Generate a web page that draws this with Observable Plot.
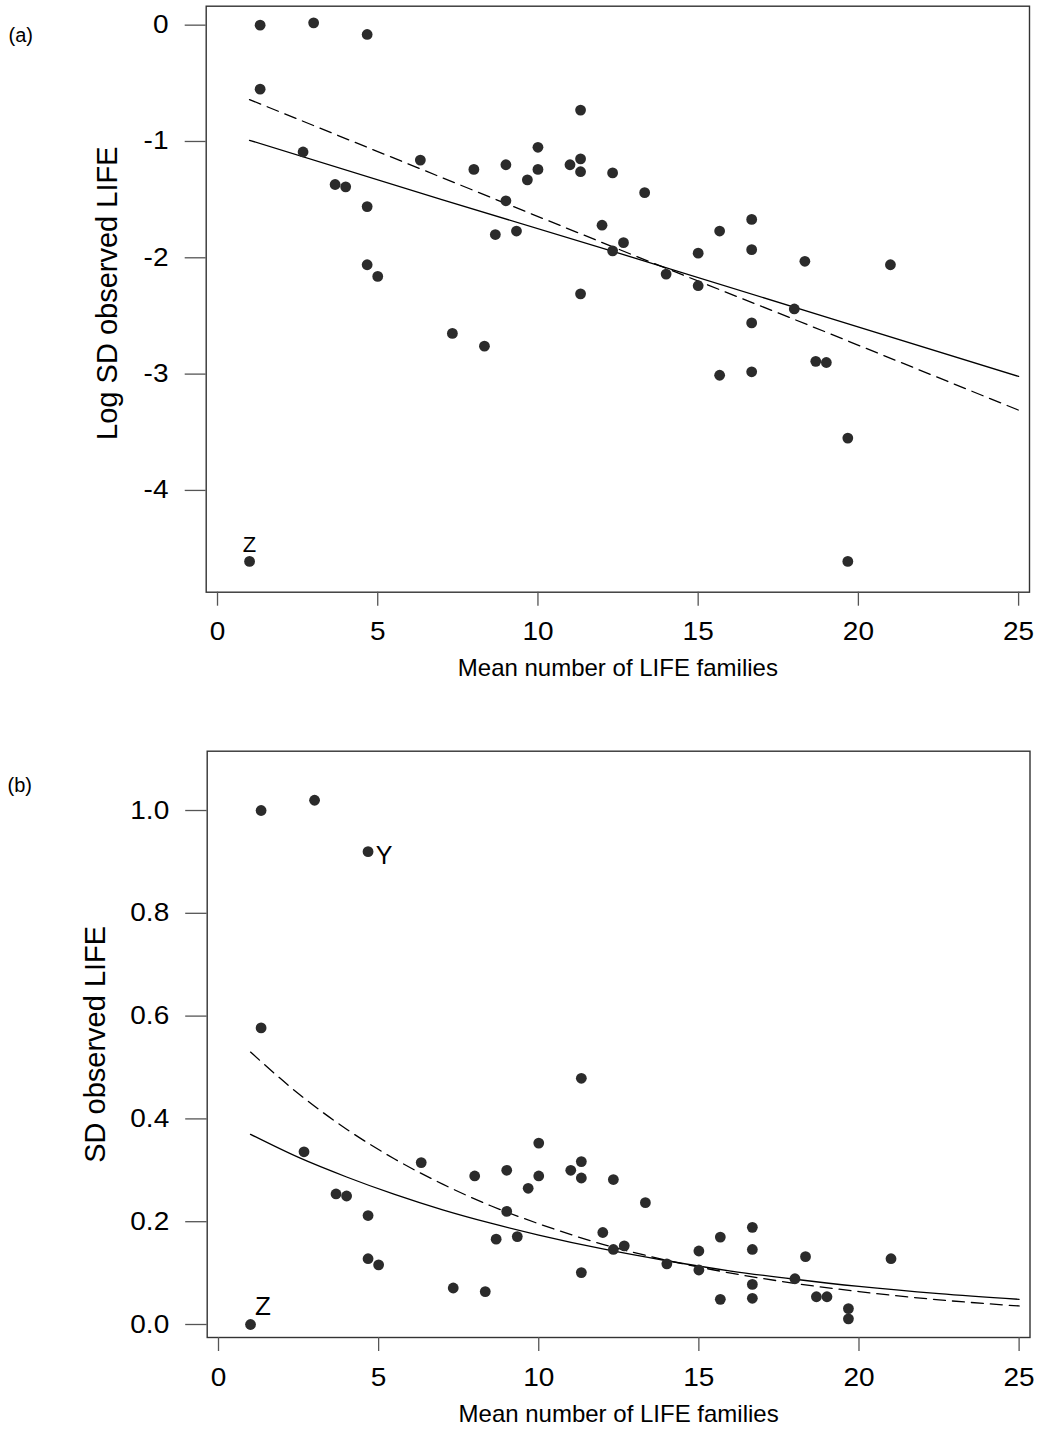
<!DOCTYPE html>
<html>
<head>
<meta charset="utf-8">
<script src="https://cdn.jsdelivr.net/npm/d3@7"></script>
<script src="https://cdn.jsdelivr.net/npm/@observablehq/plot@0.6"></script>
<style>
  html, body { margin: 0; padding: 0; background: #fff; }
  #chart svg { display: block; }
</style>
</head>
<body>
<div id="chart"></div>
<script>
// ---- data ----
const familiesMean = [1.33, 3.00, 4.67, 1.33, 2.67, 3.67, 4.00, 4.67, 4.67, 5.00,
  6.33, 8.00, 9.00, 9.00, 8.67, 9.33, 9.67, 10.00, 10.00, 11.00,
  11.33, 11.33, 11.33, 11.33, 12.33, 12.00, 12.33, 13.33, 12.67, 14.00,
  15.00, 15.00, 15.67, 16.67, 16.67, 18.33, 21.00, 18.00, 16.67, 15.67,
  16.67, 18.67, 19.00, 19.67, 19.67, 7.33, 8.33, 1.00];
const logSD = [0.00, 0.02, -0.08, -0.55, -1.09, -1.37, -1.39, -1.56, -2.06, -2.16,
  -1.16, -1.24, -1.20, -1.51, -1.80, -1.77, -1.33, -1.05, -1.24, -1.20,
  -1.15, -1.26, -0.73, -2.31, -1.27, -1.72, -1.94, -1.44, -1.87, -2.14,
  -1.96, -2.24, -1.77, -1.67, -1.93, -2.03, -2.06, -2.44, -2.56, -3.01,
  -2.98, -2.89, -2.90, -3.55, -4.61, -2.65, -2.76, -4.61];
const sdObserved = [1.00, 1.02, 0.92, 0.577, 0.336, 0.254, 0.250, 0.212, 0.128, 0.116,
  0.315, 0.289, 0.300, 0.220, 0.166, 0.171, 0.265, 0.353, 0.289, 0.300,
  0.317, 0.285, 0.479, 0.101, 0.282, 0.179, 0.146, 0.237, 0.153, 0.118,
  0.143, 0.106, 0.170, 0.189, 0.146, 0.132, 0.128, 0.089, 0.078, 0.049,
  0.051, 0.054, 0.054, 0.031, 0.011, 0.071, 0.064, 0.000];

// fitted lines, panel (a)
const fitX = [1, 7, 13, 19, 25];
const fitSolidA = [-0.99, -1.50, -2.00, -2.51, -3.02];
const fitDashedA = [-0.64, -1.31, -1.98, -2.64, -3.31];
// fitted curves, panel (b)
const curveX = [1, 2.5, 4, 5.5, 7, 8.5, 10, 12, 14, 16, 18, 20, 22.5, 25];
const curveSolidB = [0.370, 0.325, 0.287, 0.253, 0.223, 0.197, 0.174, 0.147, 0.124, 0.104, 0.088, 0.074, 0.060, 0.049];
const curveDashedB = [0.530, 0.449, 0.380, 0.322, 0.273, 0.231, 0.196, 0.156, 0.125, 0.100, 0.080, 0.064, 0.048, 0.036];

// tick values and texts
const xTicks = [0, 5, 10, 15, 20, 25];
const yTicksA = [0, -1, -2, -3, -4];
const yTicksB = [0, 0.2, 0.4, 0.6, 0.8, 1.0];
const xLabel = "Mean number of LIFE families";
const yLabelA = "Log SD observed LIFE";
const yLabelB = "SD observed LIFE";
const panelA = "(a)", panelB = "(b)";
const zIndex = 47, yIndex = 2;

// ---- drawing ----
const FONT = "'Liberation Sans', Arial, Helvetica, sans-serif";
const DOT = "#2b2b2b";

function stretchText(svg, selector, sx, sy) {
  svg.querySelectorAll(selector).forEach(t => {
    const tr = t.getAttribute("transform");
    if (tr) t.setAttribute("transform", tr + ` scale(${sx},${sy})`);
    else {
      const x = +t.getAttribute("x") || 0, y = +t.getAttribute("y") || 0;
      t.setAttribute("transform", `translate(${x},${y}) scale(${sx},${sy}) translate(${-x},${-y})`);
    }
  });
}

const svgA = Plot.plot({
  width: 1038, height: 745,
  marginLeft: 205.7, marginRight: 9, marginTop: 5.7, marginBottom: 153.3,
  style: {fontFamily: FONT, fontSize: "25px", background: "#fff", overflow: "visible"},
  x: {domain: [-0.353, 25.34]},
  y: {domain: [-4.875, 0.163]},
  marks: [
    Plot.frame({stroke: "#333", strokeWidth: 1.4}),
    Plot.axisX({ticks: xTicks, tickSize: 14, tickPadding: 16.5, label: null, fontSize: 25, stroke: "#555", strokeWidth: 1.3, tickFormat: d => String(d)}),
    Plot.axisY({ticks: yTicksA, tickSize: 21, tickPadding: 16.7, label: null, fontSize: 25, stroke: "#555", strokeWidth: 1.3, tickFormat: d => String(d)}),
    Plot.line(fitX, {x: d => d, y: (d, i) => fitSolidA[i], stroke: "#000", strokeWidth: 1.3}),
    Plot.line(fitX, {x: d => d, y: (d, i) => fitDashedA[i], stroke: "#000", strokeWidth: 1.3, strokeDasharray: "12,7"}),
    Plot.dot(familiesMean, {x: d => d, y: (d, i) => logSD[i], r: 5.4, fill: DOT, stroke: null}),
    Plot.text([zIndex], {x: i => familiesMean[i], y: i => logSD[i], text: () => "Z", dy: -16, fontSize: 22}),
    Plot.text([xLabel], {text: d => d, frameAnchor: "bottom", dy: 84, fontSize: 24, ariaLabel: "xlab"}),
    Plot.text([yLabelA], {text: d => d, frameAnchor: "left", textAnchor: "middle", rotate: -90, dx: -98, dy: -6, fontSize: 29, ariaLabel: "ylab"}),
    Plot.text([panelA], {text: d => d, frameAnchor: "top-left", textAnchor: "start", dx: -197.7, dy: 21.3, fontSize: 20, ariaLabel: "panel"})
  ]
});

const svgB = Plot.plot({
  width: 1038, height: 685,
  marginLeft: 206.7, marginRight: 8.5, marginTop: 5.7, marginBottom: 93,
  style: {fontFamily: FONT, fontSize: "25px", background: "#fff", overflow: "visible"},
  x: {domain: [-0.353, 25.34]},
  y: {domain: [-0.0253, 1.1154]},
  marks: [
    Plot.frame({stroke: "#333", strokeWidth: 1.4}),
    Plot.axisX({ticks: xTicks, tickSize: 14, tickPadding: 16.5, label: null, fontSize: 25, stroke: "#555", strokeWidth: 1.3, tickFormat: d => String(d)}),
    Plot.axisY({ticks: yTicksB, tickSize: 21.5, tickPadding: 16.5, label: null, fontSize: 25, stroke: "#555", strokeWidth: 1.3, tickFormat: d3.format(".1f")}),
    Plot.line(curveX, {x: d => d, y: (d, i) => curveSolidB[i], stroke: "#000", strokeWidth: 1.3, curve: "monotone-x"}),
    Plot.line(curveX, {x: d => d, y: (d, i) => curveDashedB[i], stroke: "#000", strokeWidth: 1.3, strokeDasharray: "12,7", curve: "monotone-x"}),
    Plot.dot(familiesMean, {x: d => d, y: (d, i) => sdObserved[i], r: 5.4, fill: DOT, stroke: null}),
    Plot.text([zIndex], {x: i => familiesMean[i], y: i => sdObserved[i], text: () => "Z", dx: 12.5, dy: -18.3, fontSize: 26}),
    Plot.text([yIndex], {x: i => familiesMean[i], y: i => sdObserved[i], text: () => "Y", textAnchor: "start", dx: 7.7, dy: 4, fontSize: 25}),
    Plot.text([xLabel], {text: d => d, frameAnchor: "bottom", dy: 84, fontSize: 24, ariaLabel: "xlab"}),
    Plot.text([yLabelB], {text: d => d, frameAnchor: "left", textAnchor: "middle", rotate: -90, dx: -111, dy: 0, fontSize: 29, ariaLabel: "ylab"}),
    Plot.text([panelB], {text: d => d, frameAnchor: "top-left", textAnchor: "start", dx: -199.7, dy: 26.3, fontSize: 20, ariaLabel: "panel"})
  ]
});

for (const svg of [svgA, svgB]) {
  stretchText(svg, 'g[aria-label$="tick label"] text', 1.12, 1);
  stretchText(svg, 'g[aria-label="xlab"] text', 1.16, 1);
  stretchText(svg, 'g[aria-label="ylab"] text', 1, 1.1);
  stretchText(svg, 'g[aria-label="panel"] text', 1.1, 1);
}

const chart = document.getElementById("chart");
chart.appendChild(svgA);
chart.appendChild(svgB);
</script>
</body>
</html>
